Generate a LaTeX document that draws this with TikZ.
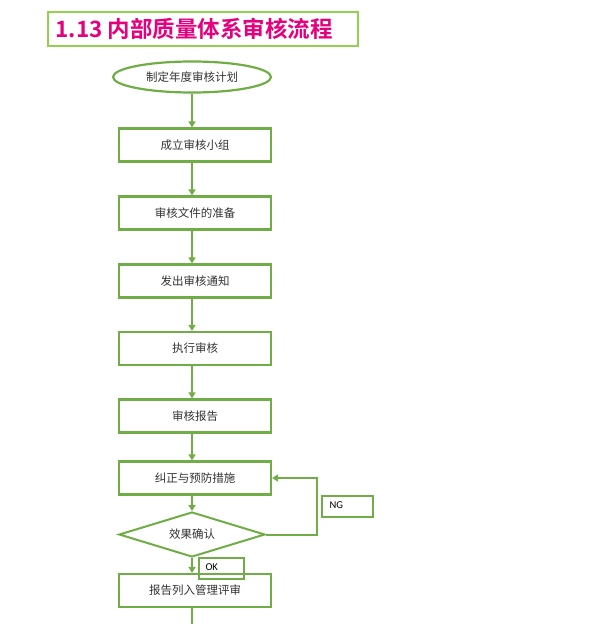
\documentclass[tikz,border=0pt]{standalone}
\usepackage{fontspec}
\setsansfont{Carlito}
\newfontfamily\cjk{Noto Sans CJK SC}[BoldFont={Noto Sans CJK SC Bold}]
\usetikzlibrary{positioning}
\usetikzlibrary{shapes.geometric, arrows.meta}
\definecolor{boxgreen}{RGB}{112,173,71}
\definecolor{titlegreen}{RGB}{146,208,80}
\definecolor{titlepink}{RGB}{230,0,126}
\definecolor{txtgray}{RGB}{50,50,50}
\tikzset{
  stepbox/.style={rectangle,draw=boxgreen,line width=2.2pt,minimum width=152pt,minimum height=33pt,inner sep=0pt,font=\cjk\fontsize{11.5}{13}\selectfont,text=txtgray},
  flow/.style={draw=boxgreen,line width=2pt,-{Triangle[width=7pt,length=6pt]}},
  tagbox/.style={rectangle,draw=boxgreen,line width=2pt,inner sep=0pt,anchor=north west},
  tagtext/.style={font=\sffamily\fontsize{10.5}{12}\selectfont,text=black,anchor=west}
}

\begin{document}
\begin{tikzpicture}[x=1pt,y=-1pt]
\useasboundingbox (0,0) rectangle (598,624);
% title
\draw[draw=titlegreen,line width=2pt] (48,12) rectangle (358,46);
\node[font=\cjk\bfseries\fontsize{22.5}{26}\selectfont,text=titlepink,anchor=west] (title) at (52,29) {1.13 内部质量体系审核流程};

% steps
\node[ellipse,draw=boxgreen,line width=2.2pt,minimum width=158pt,minimum height=31pt,inner sep=0pt,font=\cjk\fontsize{11.5}{13}\selectfont,text=txtgray] (plan) at (192,77) {制定年度审核计划};
\node[stepbox] (team) at (195,145) {成立审核小组};
\node[stepbox] (docs) at (195,213) {审核文件的准备};
\node[stepbox] (notice) at (195,281) {发出审核通知};
\node[stepbox] (audit) at (195,348.5) {执行审核};
\node[stepbox] (report) at (195,416) {审核报告};
\node[stepbox] (action) at (195,478) {纠正与预防措施};
\node[diamond,draw=boxgreen,line width=2pt,minimum width=146pt,minimum height=45pt,inner sep=0pt,aspect=3.2,font=\cjk\fontsize{11.5}{13}\selectfont,text=txtgray] (check) at (192,534.5) {效果确认};
\node[stepbox] (review) at (195,590.5) {报告列入管理评审};

% tags
\node[tagbox,minimum width=51pt,minimum height=21pt] (ng) at (321,495) {};
\node[tagtext] (ngtext) at (326,505.5) {NG};
\node[tagbox,minimum width=45pt,minimum height=21pt] (ok) at (198,557) {};
\node[tagtext] (oktext) at (202,567.5) {OK};

% connectors
\coordinate (out) at (192,624);
\draw[flow] (plan.south) -- (plan.south |- team.north);
\draw[flow] (plan.south |- team.south) -- (plan.south |- docs.north);
\draw[flow] (plan.south |- docs.south) -- (plan.south |- notice.north);
\draw[flow] (plan.south |- notice.south) -- (plan.south |- audit.north);
\draw[flow] (plan.south |- audit.south) -- (plan.south |- report.north);
\draw[flow] (plan.south |- report.south) -- (plan.south |- action.north);
\draw[flow] (plan.south |- action.south) -- (check.north);
\draw[flow] (check.south) -- (check.south |- review.north);
\draw[flow] (check.east) -- (317,534.5) -- (317,478) -- (action.east);
\draw[draw=boxgreen,line width=2pt] (plan.south |- review.south) -- (out);

\end{tikzpicture}
\end{document}
